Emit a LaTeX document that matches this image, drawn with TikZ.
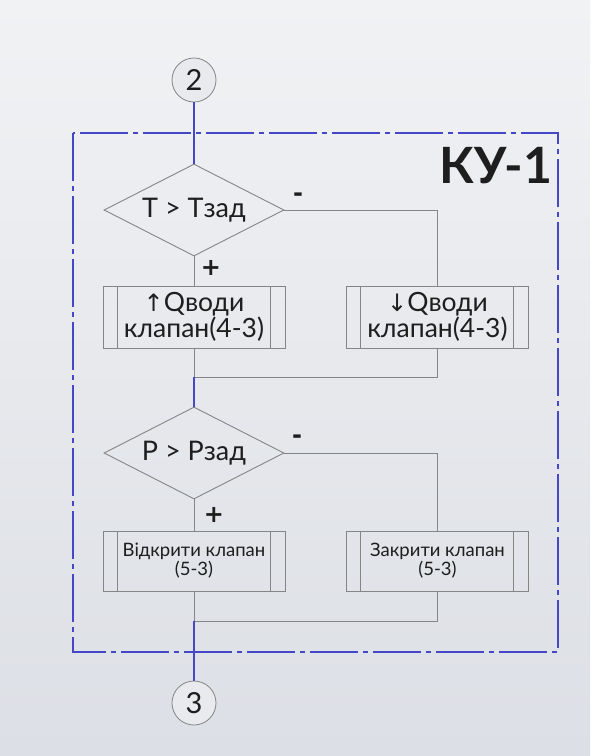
\documentclass[tikz,border=0pt]{standalone}
\usepackage{fontspec}
\setmainfont{Lato}
\newfontfamily\dejavu{DejaVu Sans}
\usetikzlibrary{shapes.geometric,calc}
\definecolor{bgtop}{HTML}{F1F2F4}
\definecolor{bgbot}{HTML}{DCDFE5}
\definecolor{frameblue}{HTML}{4646C8}
\definecolor{linegray}{HTML}{858585}
\definecolor{ink}{HTML}{1E1E1E}
\tikzset{
  conn/.style={draw=linegray, line width=0.9pt},
  bconn/.style={draw=frameblue, line width=1.2pt},
  decision/.style={diamond, aspect=2, draw=linegray, line width=0.9pt, minimum width=180pt, minimum height=92pt, inner sep=0pt, font=\fontsize{27}{28}\selectfont, text=ink},
  procbox/.style={draw=linegray, line width=0.9pt, minimum width=182pt, minimum height=62pt, inner sep=0pt, align=center, text=ink,
    path picture={
      \draw[linegray, line width=0.9pt] ([xshift=14pt]path picture bounding box.north west) -- ([xshift=14pt]path picture bounding box.south west);
      \draw[linegray, line width=0.9pt] ([xshift=-15pt]path picture bounding box.north east) -- ([xshift=-15pt]path picture bounding box.south east);
    }},
  connector/.style={circle, draw=linegray, line width=0.8pt, minimum size=44pt, inner sep=0pt, fill=bgtop!60!bgbot, font=\fontsize{29}{30}\selectfont, text=ink},
  sign/.style={inner sep=0pt, font=\dejavu\fontsize{24}{24}\selectfont\bfseries, text=ink}
}
\begin{document}
\begin{tikzpicture}[x=1pt, y=-1pt]
\useasboundingbox (0,0) rectangle (590,756);
\shade[top color=bgtop, bottom color=bgbot] (0,0) rectangle (590,756);
% frame
\draw[frameblue, line width=1.3pt, dash pattern=on 48pt off 5pt on 5pt off 5pt] (73,133) rectangle (558,652);
\node[inner sep=0pt, font=\fontsize{50}{52}\selectfont\bfseries, text=ink] (title) at (496,166) {КУ-1};
% nodes
\node[connector] (c2) at (194,80) {2};
\node[decision] (d1) at (194,210) {T > Tзад};
\node[procbox, font=\fontsize{26.5}{24}\selectfont] (b1) at (194,317) {{\dejavu\fontsize{24}{24}\selectfont↑}Qводи\\клапан(4-3)};
\node[procbox, font=\fontsize{26.5}{24}\selectfont] (b2) at (437.5,317) {{\dejavu\fontsize{24}{24}\selectfont↓}Qводи\\клапан(4-3)};
\coordinate (m1) at (194,377);
\node[decision] (d2) at (194,453) {P > Pзад};
\node[procbox, minimum height=60pt, font=\fontsize{18.5}{19}\selectfont] (b3) at (194,561) {Відкрити клапан\\(5-3)};
\node[procbox, minimum height=60pt, font=\fontsize{18.5}{19}\selectfont] (b4) at (437.5,561) {Закрити клапан\\(5-3)};
\coordinate (m2) at (194,621);
\node[connector] (c3) at (194,703) {3};
% signs
\node[sign] (s1m) at (298,197) {-};
\node[sign] (s1p) at (211,268) {+};
\node[sign] (s2m) at (297,439) {-};
\node[sign] (s2p) at (214,515) {+};
% connectors
\draw[bconn] (c2.south) -- (d1.north);
\draw[conn] (d1.south) -- (b1.north);
\draw[conn] (d1.east) -| (b2.north);
\draw[conn] (b1.south) -- (m1);
\draw[conn] (b2.south) |- (m1);
\draw[bconn] (m1) -- (d2.north);
\draw[conn] (d2.south) -- (b3.north);
\draw[conn] (d2.east) -| (b4.north);
\draw[conn] (b3.south) -- (m2);
\draw[conn] (b4.south) |- (m2);
\draw[bconn] (m2) -- (c3.north);
\end{tikzpicture}
\end{document}
